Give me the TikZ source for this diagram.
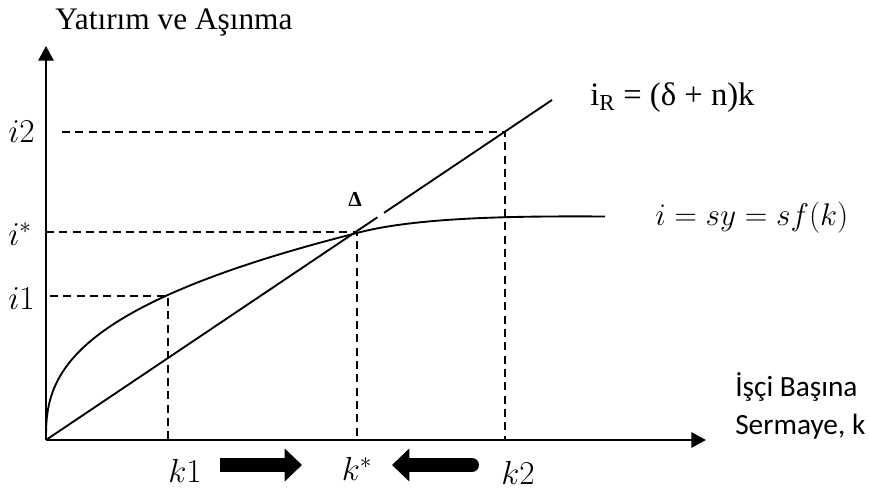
\RequirePackage{fix-cm}
\documentclass[tikz,border=0pt]{standalone}
\usepackage{fontspec}
\setmainfont{Liberation Serif}
\newfontfamily\calibfont{Carlito}
\usetikzlibrary{positioning,arrows.meta,calc}

\begin{document}
\begin{tikzpicture}[x=0.75pt,y=-0.75pt,
  axis/.style={line width=1.5pt,-{Triangle[length=11pt,width=11.5pt]}},
  curve/.style={line width=1.4pt},
  guide/.style={line width=1.4pt,dash pattern=on 6pt off 4pt},
  push/.style={line width=10.5pt,-{Triangle[length=13pt,width=24pt]}},
  lab/.style={inner sep=0pt,font=\fontsize{25}{29}\selectfont}]
\useasboundingbox (0,0) rectangle (869,499);

% axes
\coordinate (O) at (46,440);
\coordinate (ytop) at (46,46);
\coordinate (xend) at (706,440);
\draw[axis] (O) -- (ytop);
\draw[axis] (O) -- (xend);

\node[lab,font=\fontsize{23.5}{27}\selectfont] (ytitle) at (174,22) {Yatırım ve Aşınma};
\node[lab,font=\calibfont\fontsize{22}{29}\selectfont,align=left,anchor=west] (xtitle) at (735,406)
  {İşçi Başına\\Sermaye, k};

% depreciation line (with its small break) and saving curve
\coordinate (Rend) at (552,100);
\draw[curve] (O) -- ($(O)!0.655!(Rend)$);
\draw[curve] ($(O)!0.668!(Rend)$) -- (Rend);
\draw[curve] (O) -- plot[domain=0.01:1,samples=90,variable=\s] ({46+311*\s^3},{440-207*\s^1.14})
  .. controls (417,216.8) and (520,216) .. (605,216.5);

\node[lab,font=\fontsize{24.5}{28}\selectfont,anchor=west] (iR) at (590,98) {i\textsubscript{R} = (δ + n)k};
\node[lab,font=\fontsize{23.5}{27}\selectfont,anchor=west] (isy) at (655,218) {$i = sy = sf(k)$};
\node[lab,font=\bfseries\fontsize{16}{18}\selectfont] (delta) at (355,199) {Δ};

% points on the curves
\coordinate (E1) at (168,296);
\coordinate (Es) at (357,232);
\coordinate (E2) at (505,132);

\node[lab,anchor=east] (i2) at (35,132) {$i2$};
\node[lab,anchor=east] (is) at (32,234) {$i^*$};
\node[lab,anchor=east] (i1) at (35,299) {$i1$};
\node[lab] (k1) at (185,471) {$k1$};
\node[lab] (ks) at (357,469) {$k^*$};
\node[lab] (k2) at (518,473) {$k2$};

\draw[guide] (62,132) -- (E2) -- (505,440);
\draw[guide] (46,232) -- (Es) -- (357,440);
\draw[guide] (50,296) -- (E1) -- (168,440);

% convergence arrows
\coordinate (ra) at (220,465);
\coordinate (rb) at (302,465);
\coordinate (la) at (472,465);
\coordinate (lb) at (392,465);
\draw[push] (ra) -- (rb);
\draw[push,line join=round,line cap=round] (la) -- (lb);
\end{tikzpicture}
\end{document}
